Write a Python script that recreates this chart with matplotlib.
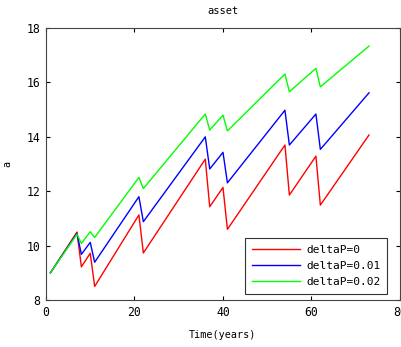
import matplotlib
matplotlib.use("Agg")
import matplotlib.pyplot as plt

# time points where the curves bend (years)
t = [1, 7, 8, 10, 11, 21, 22, 36, 37, 40, 41, 54, 55, 61, 62, 73]

a_dp0 = [9.0, 10.5, 9.22, 9.72, 8.5, 11.13, 9.73, 13.18, 11.43, 12.14, 10.6,
         13.7, 11.86, 13.29, 11.49, 14.07]
a_dp001 = [9.0, 10.45, 9.68, 10.12, 9.39, 11.8, 10.88, 14.0, 12.82, 13.43, 12.31,
           14.98, 13.7, 14.84, 13.54, 15.62]
a_dp002 = [9.0, 10.42, 10.08, 10.51, 10.3, 12.51, 12.1, 14.84, 14.25, 14.8, 14.22,
           16.31, 15.66, 16.52, 15.84, 17.34]

labels = ["deltaP=0", "deltaP=0.01", "deltaP=0.02"]
xticks = [0, 20, 40, 60, 80]
yticks = [8, 10, 12, 14, 16, 18]

plt.rcParams["font.family"] = "DejaVu Sans Mono"

fig = plt.figure(figsize=(4.02, 3.47), dpi=100)
ax = fig.add_axes([0.1144, 0.1354, 0.8806, 0.7836])

ax.plot(t, a_dp0, color="#ff0000", lw=1.0, label=labels[0])
ax.plot(t, a_dp001, color="#0000ff", lw=1.0, label=labels[1])
ax.plot(t, a_dp002, color="#00ff00", lw=1.0, label=labels[2])

ax.set_xlim(0, 80)
ax.set_ylim(8, 18)
ax.set_xticks(xticks)
ax.set_yticks(yticks)
ax.tick_params(direction="in", top=True, right=True, length=3, labelsize=8.3, pad=4)
for s in ax.spines.values():
    s.set_linewidth(0.8)
    s.set_color("#444444")

ax.set_title("asset", fontsize=7.5, pad=10)
ax.set_xlabel("Time(years)", fontsize=7.3, labelpad=8)
ax.set_ylabel("a", fontsize=7.3, labelpad=10)

leg = ax.legend(loc="lower right", bbox_to_anchor=(0.963, 0.022), borderaxespad=0,
                fontsize=8, fancybox=False, framealpha=1, edgecolor="#333333",
                handlelength=4.4, labelspacing=0.55, handletextpad=0.5,
                borderpad=0.6)
leg.get_frame().set_linewidth(0.8)

fig.savefig("out.png", dpi=100)
